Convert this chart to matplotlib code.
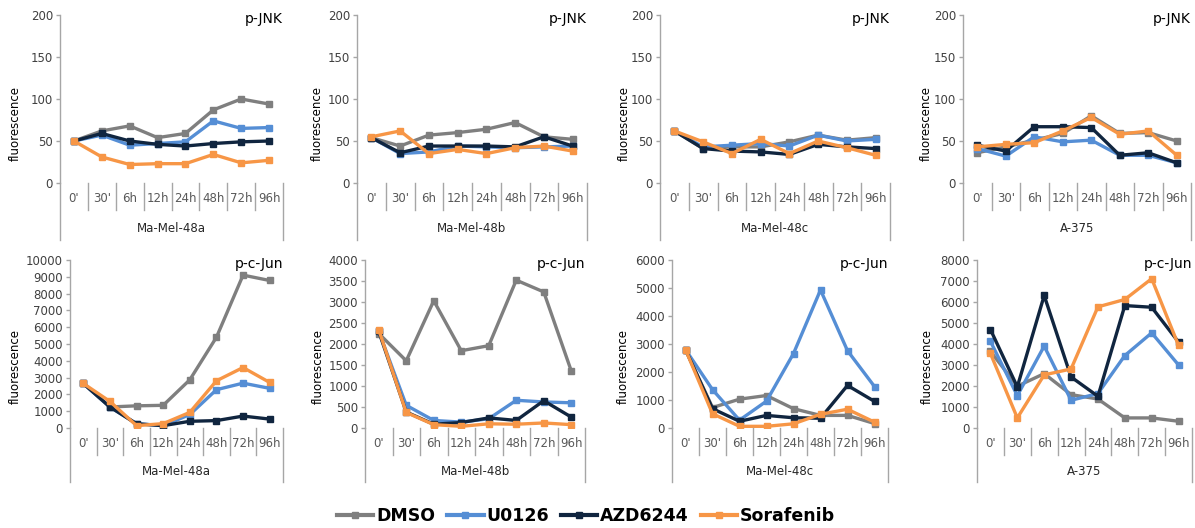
import matplotlib
matplotlib.use('Agg')
from matplotlib import pyplot as plt
from matplotlib.transforms import blended_transform_factory
from matplotlib.lines import Line2D

plt.rcParams['font.family'] = ['DejaVu Sans']

times = ["0'", "30'", "6h", "12h", "24h", "48h", "72h", "96h"]
drugs = ['DMSO', 'U0126', 'AZD6244', 'Sorafenib']
colours = ['#7f7f7f', '#558ed5', '#10253f', '#f79646']
cell_lines = ['Ma-Mel-48a', 'Ma-Mel-48b', 'Ma-Mel-48c', 'A-375']

# p-JNK, one list per drug (DMSO, U0126, AZD6244, Sorafenib)
jnk_48a = [[50, 62, 68, 54, 59, 87, 100, 94],
           [50, 57, 45, 47, 49, 74, 65, 66],
           [50, 59, 50, 46, 44, 47, 49, 50],
           [50, 31, 22, 23, 23, 34, 24, 27]]
jnk_48b = [[54, 44, 57, 60, 64, 72, 55, 52],
           [54, 35, 37, 44, 43, 42, 43, 44],
           [54, 36, 44, 44, 44, 43, 55, 44],
           [55, 62, 35, 40, 35, 42, 44, 38]]
jnk_48c = [[62, 41, 43, 43, 49, 57, 51, 54],
           [62, 43, 45, 47, 44, 57, 50, 52],
           [62, 41, 38, 37, 34, 46, 43, 41],
           [62, 49, 35, 52, 35, 50, 42, 33]]
jnk_a375 = [[36, 43, 51, 59, 80, 59, 60, 50],
            [41, 32, 55, 49, 51, 33, 33, 24],
            [45, 38, 67, 67, 66, 33, 36, 24],
            [43, 46, 48, 62, 78, 58, 62, 33]]

# p-c-Jun
cjun_48a = [[2650, 1250, 1320, 1350, 2870, 5400, 9100, 8780],
            [2650, 1250, 260, 140, 800, 2280, 2670, 2360],
            [2650, 1250, 250, 140, 400, 440, 710, 530],
            [2650, 1580, 140, 260, 930, 2810, 3600, 2710]]
cjun_48b = [[2250, 1600, 3030, 1840, 1960, 3520, 3240, 1360],
            [2300, 540, 180, 140, 220, 660, 620, 600],
            [2300, 380, 90, 130, 240, 180, 650, 260],
            [2340, 370, 80, 40, 100, 90, 120, 80]]
cjun_48c = [[2800, 730, 1030, 1160, 690, 450, 450, 160],
            [2800, 1370, 280, 960, 2660, 4930, 2760, 1480],
            [2800, 690, 240, 450, 365, 350, 1520, 950],
            [2800, 510, 60, 60, 150, 490, 670, 210]]
cjun_a375 = [[3650, 1990, 2590, 1590, 1380, 480, 480, 320],
             [4130, 1540, 3900, 1320, 1640, 3450, 4530, 3000],
             [4690, 1960, 6310, 2430, 1510, 5830, 5750, 4090],
             [3550, 480, 2530, 2810, 5770, 6120, 7110, 3930]]

W, H = 1195, 528
fig = plt.figure(figsize=(W / 100, H / 100), dpi=100)

axis_grey = '#a6a6a6'
text_grey = '#404040'


def panel(x0, x1, top, zero, tick_end, label_y, frame_end, series, ymax, ystep,
          cell, title, ylab_x):
    ax = fig.add_axes([x0 / W, 1 - zero / H, (x1 - x0) / W, (zero - top) / H])
    xs = range(len(times))
    for vals, c in zip(series, colours):
        ax.plot(xs, vals, color=c, lw=2.4, marker='s', ms=5, mec=c, mfc=c)
    ax.set_xlim(-0.5, len(times) - 0.5)
    ax.set_ylim(0, ymax)
    ax.set_yticks(range(0, ymax + 1, ystep))
    ax.set_xticks([])
    for s in ('top', 'right', 'bottom'):
        ax.spines[s].set_visible(False)
    ax.spines['left'].set_color(axis_grey)
    ax.spines['left'].set_linewidth(1)
    ax.tick_params(axis='y', direction='out', length=3, width=1,
                   color=axis_grey, labelsize=8.5, labelcolor=text_grey, pad=2)
    ax.patch.set_alpha(0)

    # category axis drawn under the plot area, Excel style
    h = zero - top
    frac = lambda y: (zero - y) / h
    tr = blended_transform_factory(ax.transData, ax.transAxes)
    for b in [i + 0.5 for i in range(len(times) - 1)]:
        ax.plot([b, b], [0, frac(tick_end)], transform=tr, color=axis_grey,
                lw=1, clip_on=False)
    for b in (-0.5, len(times) - 0.5):
        ax.plot([b, b], [0, frac(frame_end)], transform=tr, color=axis_grey,
                lw=1, clip_on=False)
    for i, t in enumerate(times):
        ax.text(i, frac((zero + tick_end) / 2 + 2), t, transform=tr, ha='center',
                va='center', fontsize=8.5, color='#595959')
    ax.text(0.5, frac(label_y), cell, transform=ax.transAxes, ha='center',
            va='center', fontsize=8.5, color='#262626')
    ax.text(1.0, frac(top + 4), title, transform=ax.transAxes, ha='right',
            va='center', fontsize=10, color='black')
    fig.text(ylab_x / W, 1 - (top + frame_end - 8) / 2 / H, 'fluorescence',
             rotation=90, ha='center', va='center', fontsize=8.5, color='black')
    return ax


top_x = [(60, 283), (357, 587), (660, 890), (963, 1191)]
top_ylab = [15, 317, 624, 926]
for (x0, x1), yl, data, cell in zip(top_x, top_ylab,
                                    [jnk_48a, jnk_48b, jnk_48c, jnk_a375],
                                    cell_lines):
    panel(x0, x1, 15, 183, 210, 228, 240, data, 200, 50, cell, 'p-JNK', yl)

bot_x = [(70, 283), (365, 585), (672, 888), (977, 1192)]
bot_ylab = [15, 318, 623, 927]
bot_max = [(10000, 1000), (4000, 500), (6000, 1000), (8000, 1000)]
for (x0, x1), yl, (ym, st), data, cell in zip(bot_x, bot_ylab, bot_max,
                                               [cjun_48a, cjun_48b, cjun_48c, cjun_a375],
                                               cell_lines):
    panel(x0, x1, 260, 428, 455, 472, 482, data, ym, st, cell, 'p-c-Jun', yl)

handles = [Line2D([], [], color=c, lw=3, marker='s', ms=5, mec=c, mfc=c)
           for c in colours]
fig.legend(handles, drugs, loc='center', bbox_to_anchor=(586 / W, 1 - 516 / H),
           ncol=4, frameon=False, handlelength=2.1, handletextpad=0.15,
           columnspacing=0.7, prop={'size': 12.5, 'weight': 'bold'})

fig.savefig('out.png', dpi=100, facecolor='white')
